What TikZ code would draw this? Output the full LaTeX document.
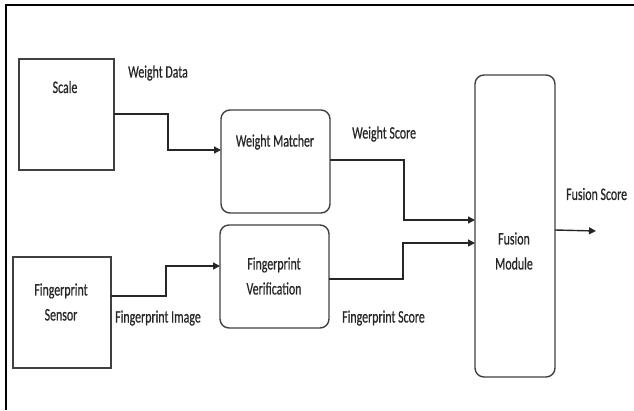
\documentclass[tikz,border=0pt]{standalone}
\usepackage{fontspec}
\setmainfont{Carlito}[FakeStretch=0.68, FakeBold=0.6]
\usetikzlibrary{arrows.meta}
\begin{document}
\begin{tikzpicture}[x=1pt,y=-1pt,
  sqbox/.style={draw=black!75, line width=1.4pt},
  rbox/.style={draw=black!75, line width=1.4pt, rounded corners=9pt},
  lbl/.style={font=\fontsize{17.5}{20}\selectfont, text=black!85, inner sep=0pt},
  conn/.style={draw=black!85, line width=1.4pt, -{Triangle[length=7pt,width=7pt]}},
  frameline/.style={line width=2.2pt, black}]
\useasboundingbox (0,0) rectangle (634,410);
% frame (top and left only)
\coordinate (ftl) at (6,5);
\coordinate (ftr) at (634,5);
\coordinate (fbl) at (6,410);
\draw[frameline] (ftr) -- (ftl) -- (fbl);
% boxes
\draw[sqbox] (19,59) rectangle (114,170);
\node[lbl] (scale) at (65,87) {Scale};
\coordinate (scaleR) at (114,114);
\draw[sqbox] (13,257) rectangle (111,368);
\node[lbl, align=center] (fps) at (61,302) {Fingerprint\\[5pt]Sensor};
\coordinate (fpsR) at (111,296);
\draw[rbox] (221,110) rectangle (330,213);
\node[lbl] (wm) at (275,142) {Weight Matcher};
\coordinate (wmL) at (221,150);
\coordinate (wmR) at (330,160);
\draw[rbox] (220,225) rectangle (329,328);
\node[lbl, align=center] (fv) at (274,276) {Fingerprint\\[5pt]Verification};
\coordinate (fvL) at (220,266);
\coordinate (fvR) at (329,279);
\draw[rbox] (475,75) rectangle (555,377);
\node[lbl, align=center] (fm) at (514,251) {Fusion\\[5pt]Module};
\coordinate (fmL1) at (475,220);
\coordinate (fmL2) at (475,243);
\coordinate (fmR) at (555,230);
\coordinate (out) at (596,231);
% labels
\node[lbl, anchor=west] (wd) at (128,73) {Weight Data};
\node[lbl, anchor=west] (ws) at (352,134) {Weight Score};
\node[lbl, anchor=west] (fs) at (566,194) {Fusion Score};
\node[lbl, anchor=west] (fi) at (115,318) {Fingerprint Image};
\node[lbl, anchor=west] (fsc) at (342,318) {Fingerprint Score};
% connectors
\draw[conn] (scaleR) -- (168,114) |- (wmL);
\draw[conn] (fpsR) -- (166,296) |- (fvL);
\draw[conn] (wmR) -- (404,160) |- (fmL1);
\draw[conn] (fvR) -- (403,279) |- (fmL2);
\draw[conn] (fmR) -- (out);
\end{tikzpicture}
\end{document}
